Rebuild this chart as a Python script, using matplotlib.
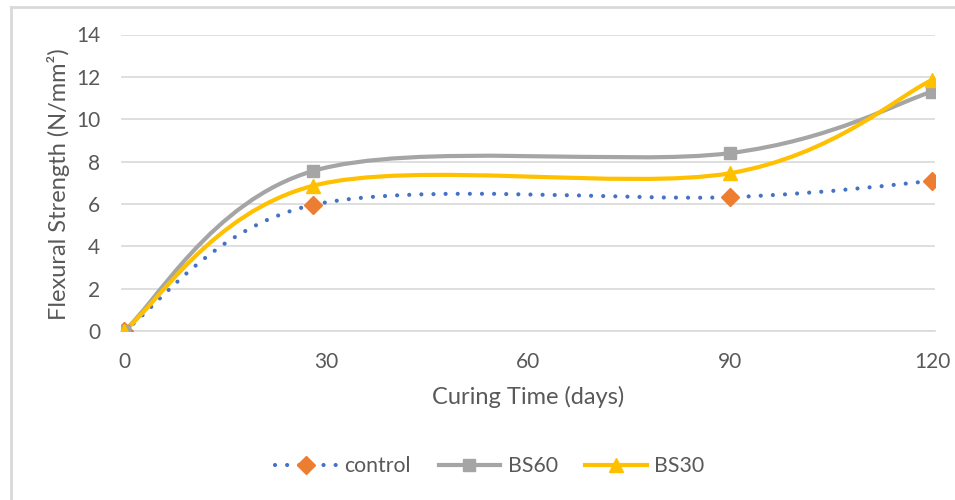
import matplotlib
matplotlib.use("Agg")
import matplotlib.pyplot as plt
from matplotlib.path import Path
from matplotlib.patches import PathPatch
from matplotlib.lines import Line2D

# curing ages (days) and flexural strength (N/mm2)
days = [0, 28, 90, 120]
control = [0.0, 5.95, 6.32, 7.08]
bs60 = [0.0, 7.55, 8.40, 11.30]
bs30 = [0.0, 6.85, 7.45, 11.85]

x_ticks = [0, 30, 60, 90, 120]
y_ticks = [0, 2, 4, 6, 8, 10, 12, 14]

plt.rcParams['font.family'] = ['Lato', 'DejaVu Sans']
TEXT = '#595959'
GRID = '#D9D9D9'


def smooth_path(xs, ys):
    # Catmull-Rom style bezier segments, like a spreadsheet "smoothed line"
    pts = list(zip(xs, ys))
    n = len(pts)
    verts = [pts[0]]
    codes = [Path.MOVETO]
    for i in range(n - 1):
        p0 = pts[max(i - 1, 0)]
        p1 = pts[i]
        p2 = pts[i + 1]
        p3 = pts[min(i + 2, n - 1)]
        c1 = (p1[0] + (p2[0] - p0[0]) / 6, p1[1] + (p2[1] - p0[1]) / 6)
        c2 = (p2[0] - (p3[0] - p1[0]) / 6, p2[1] - (p3[1] - p1[1]) / 6)
        verts += [c1, c2, p2]
        codes += [Path.CURVE4] * 3
    return Path(verts, codes)


fig = plt.figure(figsize=(9.55, 5), dpi=100)
ax = fig.add_axes([121 / 955, 1 - 331 / 500, 814 / 955, 296.5 / 500])

series = [
    (control, '#4472C4', (0, (0.01, 2.9)), '#ED7D31', 'D', 9.5, 'control'),
    (bs60, '#A5A5A5', '-', '#A5A5A5', 's', 9, 'BS60'),
    (bs30, '#FFC000', '-', '#FFC000', '^', 10, 'BS30'),
]

handles = []
for vals, lc, ls, mc, mk, ms, name in series:
    patch = PathPatch(smooth_path(days, vals), facecolor='none', edgecolor=lc,
                      lw=3, linestyle=ls, capstyle='round', zorder=3)
    ax.add_patch(patch)
    ax.plot(days, vals, linestyle='none', marker=mk, markersize=ms,
            color=mc, markeredgecolor=mc, zorder=4)
    handles.append(Line2D([], [], color=lc, lw=3, linestyle=ls,
                          dash_capstyle='round', marker=mk, markersize=ms,
                          markerfacecolor=mc, markeredgecolor=mc, label=name))

ax.set_xlim(-0.45, 120.45)
ax.set_ylim(0, 14)
ax.set_xticks(x_ticks)
ax.set_yticks(y_ticks)
ax.grid(axis='y', color=GRID, lw=1.2)
ax.set_axisbelow(True)
for s in ['top', 'right', 'left']:
    ax.spines[s].set_visible(False)
ax.spines['bottom'].set_color(GRID)
ax.spines['bottom'].set_linewidth(1.2)
ax.tick_params(length=0, labelsize=15, colors=TEXT)
ax.tick_params(axis='x', pad=15)
ax.tick_params(axis='y', pad=15)

ax.set_xlabel('Curing Time (days)', fontsize=17, color=TEXT, labelpad=10)
# y title placed by hand, just left of the tick labels
fig.text(59 / 955, 1 - 184 / 500, 'Flexural Strength (N/mm²)', fontsize=17,
         color=TEXT, rotation=90, ha='center', va='center')

fig.legend(handles=handles, loc='center', bbox_to_anchor=(490 / 955, 1 - 466 / 500),
           ncol=3, frameon=False, fontsize=15.3, handlelength=2.9,
           columnspacing=1.3, handletextpad=0.35, labelcolor=TEXT)

# chart border (left and top edges)
fig.add_artist(Line2D([10.5 / 955, 10.5 / 955], [0, 1 - 7 / 500],
                      color=GRID, lw=2, transform=fig.transFigure))
fig.add_artist(Line2D([10.5 / 955, 1], [1 - 7 / 500, 1 - 7 / 500],
                      color=GRID, lw=2, transform=fig.transFigure))

fig.savefig('out.png', dpi=100, facecolor='white')
